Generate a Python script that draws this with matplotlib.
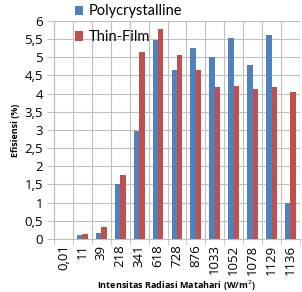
import numpy as np
import matplotlib
matplotlib.use("Agg")
import matplotlib.pyplot as plt
from matplotlib.ticker import MultipleLocator, FuncFormatter

plt.rcParams['font.family'] = ['Open Sans', 'DejaVu Sans']

categories = ["0,01", "11", "39", "218", "341", "618", "728", "876",
              "1033", "1052", "1078", "1129", "1136"]
poly = [0.0, 0.10, 0.15, 1.50, 2.97, 5.48, 4.66, 5.27, 5.02, 5.53, 4.78, 5.62, 1.00]
thin = [0.0, 0.14, 0.33, 1.76, 5.15, 5.78, 5.06, 4.64, 4.18, 4.22, 4.13, 4.19, 4.05]

blue = "#4f81bd"
red = "#c0504d"
grid_c = "#bfbfbf"

fig = plt.figure(figsize=(3.02, 2.92), dpi=100)
ax = fig.add_axes([0.179, 0.182, 0.814, 0.746])

x = np.arange(len(categories))
w = 0.286
b1 = ax.bar(x - w / 2, poly, w, color=blue, label="Polycrystalline", zorder=3)
b2 = ax.bar(x + w / 2, thin, w, color=red, label="Thin-Film", zorder=3)

ax.set_xlim(-0.5, len(categories) - 0.5)
ax.set_ylim(0, 6)
ax.yaxis.set_major_locator(MultipleLocator(0.5))
ax.yaxis.set_major_formatter(FuncFormatter(lambda v, p: ("%g" % v).replace(".", ",")))
ax.set_xticks(x)
ax.set_xticklabels(categories, rotation=90, fontsize=9.5)
ax.set_xticks(np.arange(-0.5, len(categories)), minor=True)
ax.tick_params(axis='x', which='major', length=0, pad=4)
ax.tick_params(axis='x', which='minor', length=4, color=grid_c)
ax.tick_params(axis='y', labelsize=9.5, length=5, color=grid_c, pad=3)

ax.grid(True, axis='y', color=grid_c, linewidth=0.8, zorder=0)
ax.grid(True, axis='x', which='minor', color=grid_c, linewidth=0.8, zorder=0)
for s in ['top', 'right']:
    ax.spines[s].set_visible(False)
for s in ['left', 'bottom']:
    ax.spines[s].set_color(grid_c)
ax.axvline(len(categories) - 0.5, color=grid_c, linewidth=0.8, zorder=0)

ax.set_ylabel("Efisiensi (%)", fontsize=6.5, fontweight='bold', labelpad=3)
ax.set_xlabel("Intensitas Radiasi Matahari (W/m$^2$)", fontsize=6.5, fontweight='bold', labelpad=3)

leg = fig.legend(handles=[b1, b2], loc='upper left', bbox_to_anchor=(0.213, 1.02),
                 frameon=False, handlelength=0.6, handleheight=0.6,
                 handletextpad=0.4, labelspacing=0.8, borderpad=0.2,
                 prop={'family': ['Liberation Sans Narrow', 'Lato'], 'size': 10.5})

fig.savefig("out.png", dpi=100)
